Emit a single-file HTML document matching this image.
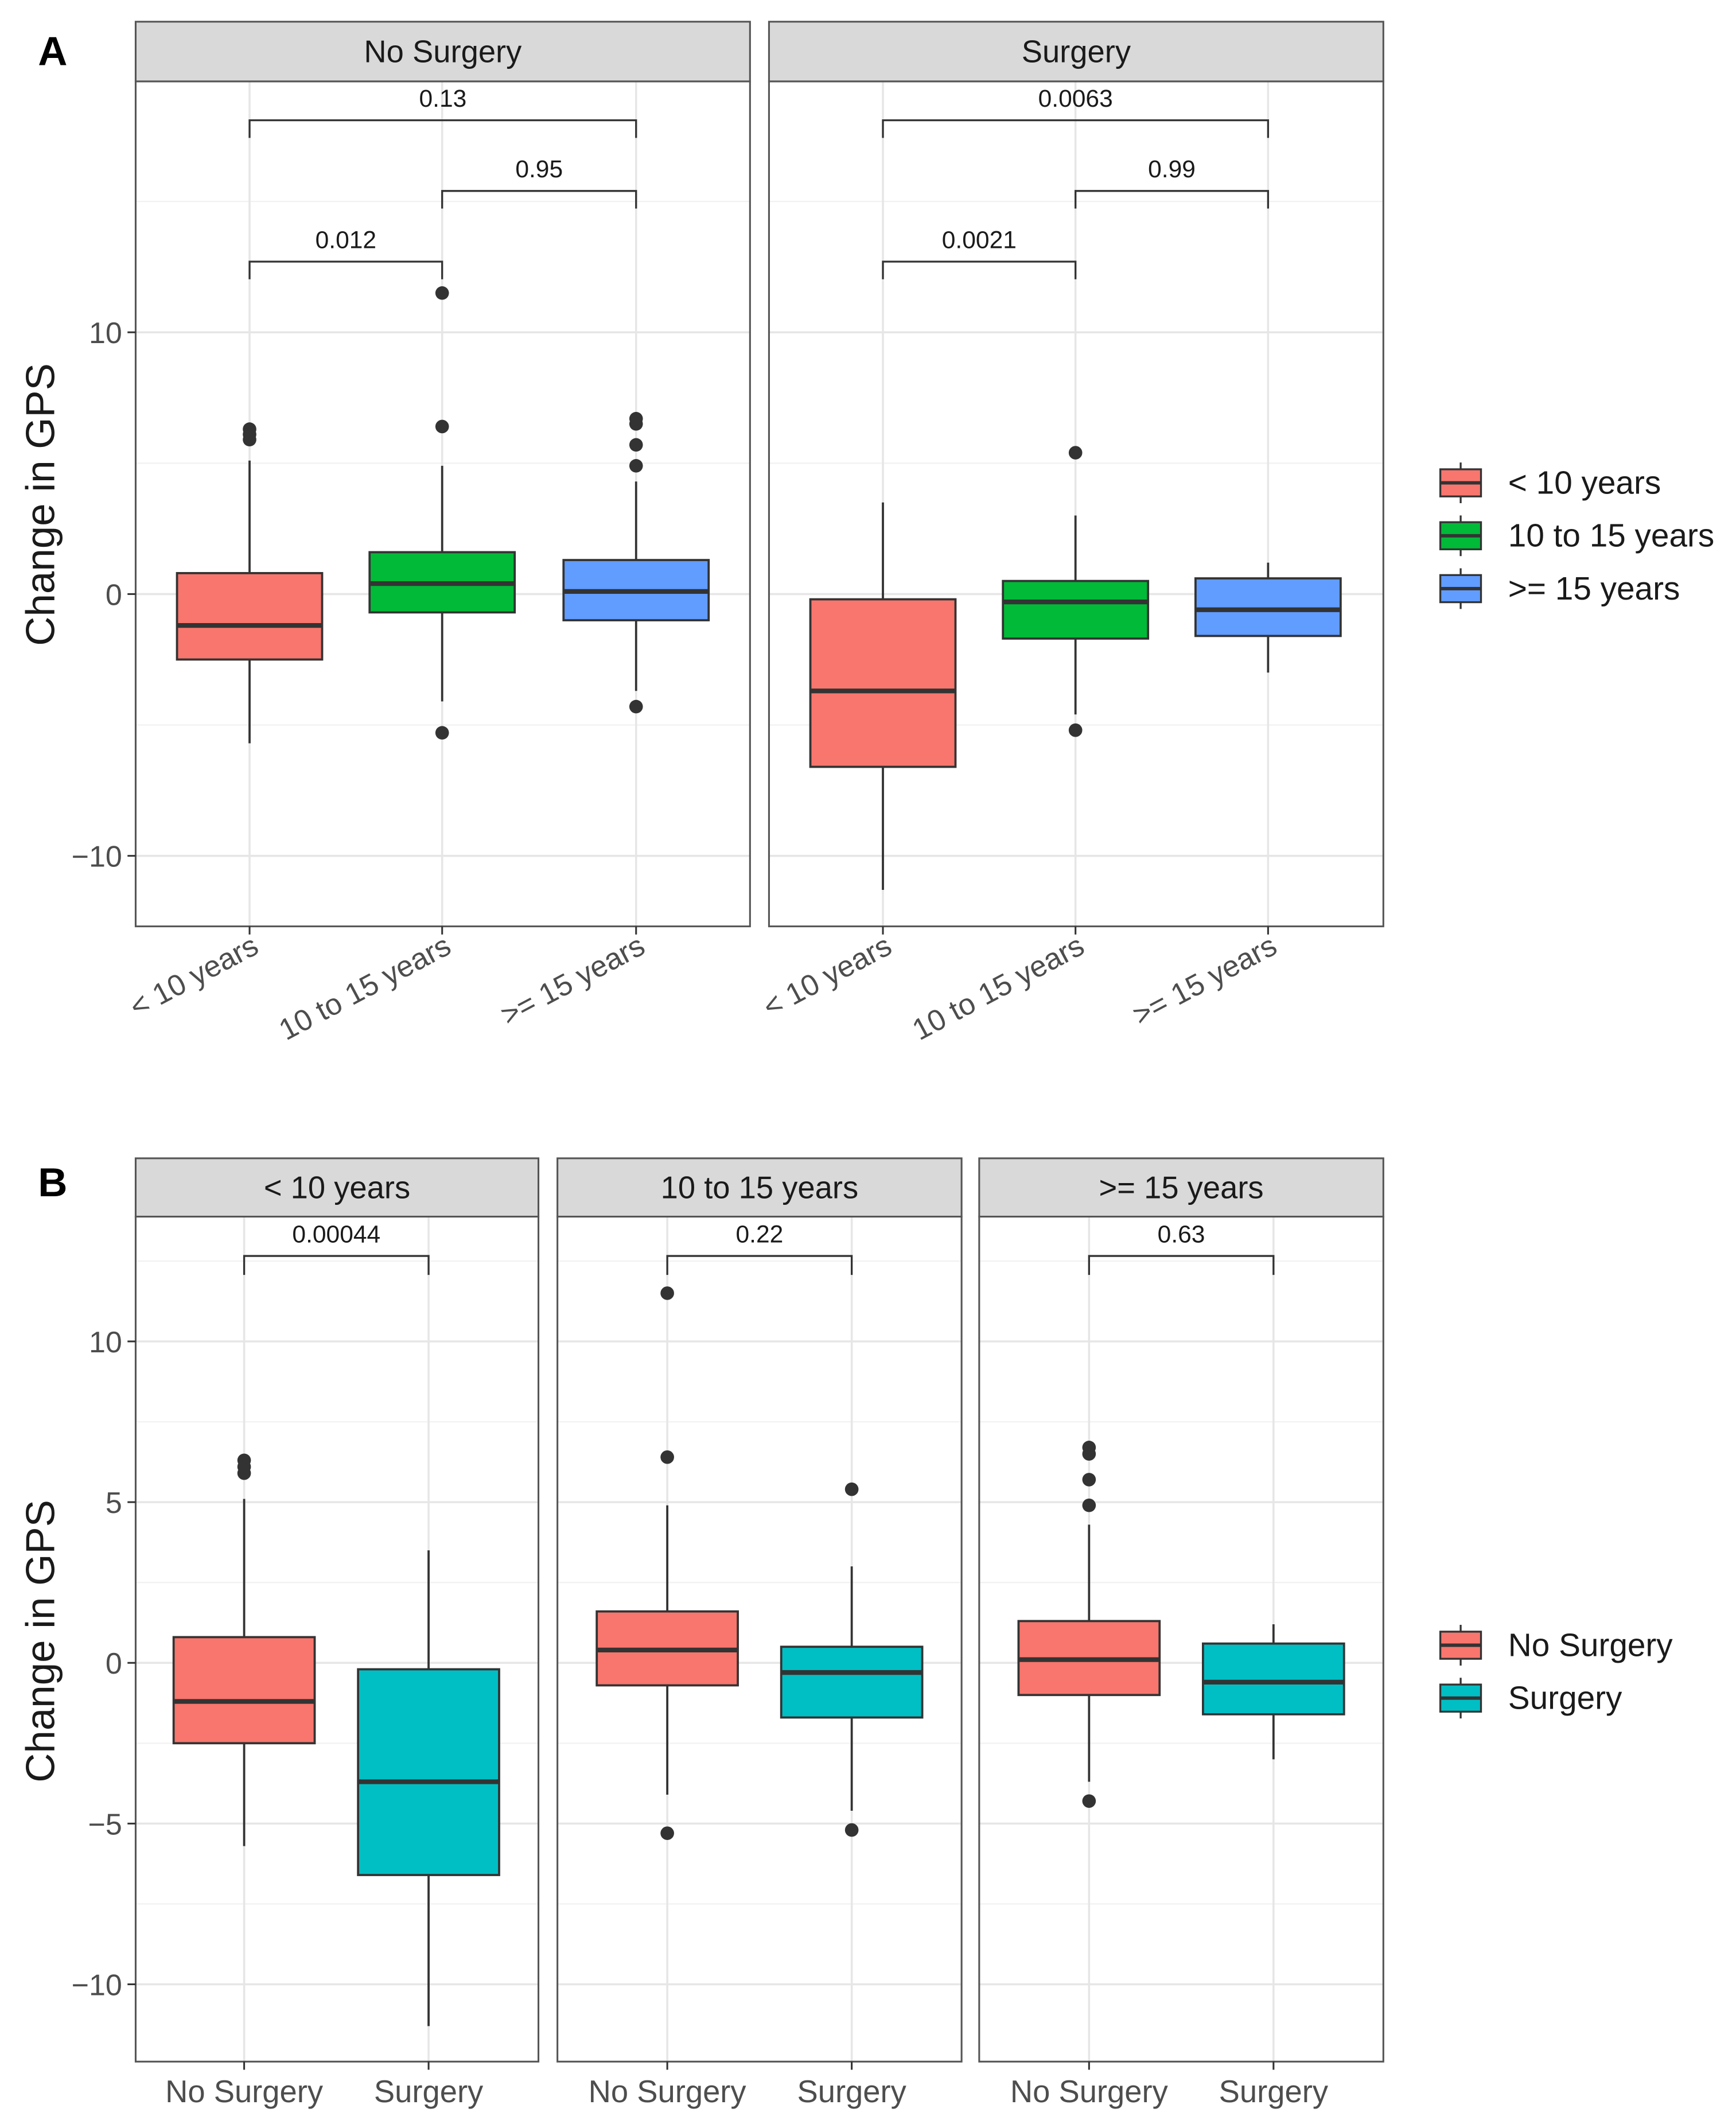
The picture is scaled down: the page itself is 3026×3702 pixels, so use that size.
<!DOCTYPE html>
<html><head><meta charset="utf-8"><style>
html,body{margin:0;padding:0;background:#fff}
svg{display:block}
text{font-family:"Liberation Sans",sans-serif}
</style></head><body>
<svg id="chart" width="3026" height="3702" viewBox="0 0 1280 1566" xmlns="http://www.w3.org/2000/svg"></svg>
<script>
// ---- Data ----
const groupsA = ["< 10 years","10 to 15 years",">= 15 years"];
const facetsA = ["No Surgery","Surgery"];
// [lowWhisker, q1, median, q3, highWhisker]
const statsNoSurgery = [[-5.7,-2.5,-1.2,0.8,5.1],[-4.1,-0.7,0.4,1.6,4.9],[-3.7,-1.0,0.1,1.3,4.3]];
const statsSurgery = [[-11.3,-6.6,-3.7,-0.2,3.5],[-4.6,-1.7,-0.3,0.5,3.0],[-3.0,-1.6,-0.6,0.6,1.2]];
const outNoSurgery = [[6.3,6.1,5.9],[11.5,6.4,-5.3],[6.7,6.5,5.7,4.9,-4.3]];
const outSurgery = [[],[5.4,-5.2],[]];
const pvalsNoSurgery = ["0.012","0.95","0.13"];
const pvalsSurgery = ["0.0021","0.99","0.0063"];
const pvalY = [12.7,15.4,18.1];
const ticksA = [-10,0,10];
const minorA = [-5,5,15];
const ticksB = [-10,-5,0,5,10];
const minorB = [-7.5,-2.5,2.5,7.5,12.5];
const facetsB = ["< 10 years","10 to 15 years",">= 15 years"];
const groupsB = ["No Surgery","Surgery"];
const pvalsB = ["0.00044","0.22","0.63"];
const colorsA = ["#F8766D","#00BA38","#619CFF"];
const colorsB = ["#F8766D","#00BFC4"];

const svg = document.getElementById('chart');
const NS = "http://www.w3.org/2000/svg";
function el(tag, attrs, parent, text){
  const e = document.createElementNS(NS, tag);
  for (const k in attrs) e.setAttribute(k, attrs[k]);
  if (text !== undefined) e.textContent = text;
  (parent||svg).appendChild(e);
  return e;
}

// ---- Axis functions ----
const yA = v => 438 - v*19.3;
const yB = v => 1226 - v*23.7;

function panel(x0, x1, top, bot, stripTop, title, yfn, ticks, minor, xs, showY){
  const g = el('g', {});
  
  
  el('rect', {x:x0, y:top, width:x1-x0, height:bot-top, fill:'#fff'}, g);
  minor.forEach(v => { const y=yfn(v); if(y>top&&y<bot) el('line',{x1:x0,x2:x1,y1:y,y2:y,stroke:'#f2f2f2','stroke-width':1},g); });
  ticks.forEach(v => el('line',{x1:x0,x2:x1,y1:yfn(v),y2:yfn(v),stroke:'#e6e6e6','stroke-width':1.5},g));
  xs.forEach(x => el('line',{x1:x,x2:x,y1:top,y2:bot,stroke:'#e6e6e6','stroke-width':1.5},g));
  el('rect',{x:x0,y:top,width:x1-x0,height:bot-top,fill:'none',stroke:'#555','stroke-width':1.3},g);
  const s = el('rect',{x:x0,y:stripTop,width:x1-x0,height:top-stripTop,fill:'#d9d9d9',stroke:'#555','stroke-width':1.3},g);
  
  
  const t = el('text',{x:(x0+x1)/2,y:stripTop+(top-stripTop)/2+8,'text-anchor':'middle','font-size':23,fill:'#1a1a1a'},g,title);
  
  
  xs.forEach(x => el('line',{x1:x,x2:x,y1:bot,y2:bot+6,stroke:'#333','stroke-width':1.3},g));
  if (showY) ticks.forEach(v => {
    el('line',{x1:x0-6,x2:x0,y1:yfn(v),y2:yfn(v),stroke:'#333','stroke-width':1.3},g);
    const tl = el('text',{x:x0-10,y:yfn(v)+8,'text-anchor':'end','font-size':22,fill:'#4d4d4d'},g, v<0?'\u2212'+(-v):String(v));
    
    
  });
  return g;
}

function box(g, x, w, s, outs, yfn, color){
  el('line',{x1:x,x2:x,y1:yfn(s[0]),y2:yfn(s[1]),stroke:'#333','stroke-width':1.6},g);
  el('line',{x1:x,x2:x,y1:yfn(s[3]),y2:yfn(s[4]),stroke:'#333','stroke-width':1.6},g);
  const r = el('rect',{x:x-w/2,y:yfn(s[3]),width:w,height:yfn(s[1])-yfn(s[3]),fill:color,stroke:'#333','stroke-width':1.6},g);
  
  
  el('line',{x1:x-w/2,x2:x+w/2,y1:yfn(s[2]),y2:yfn(s[2]),stroke:'#333','stroke-width':3.5},g);
  outs.forEach(o => {
    const c = el('circle',{cx:x,cy:yfn(o),r:5,fill:'#333'},g);
    
    
  });
}

function bracket(g, xa, xb, y, label, drop){
  el('path',{d:`M${xa},${y+drop} V${y} H${xb} V${y+drop}`,fill:'none',stroke:'#333','stroke-width':1.4},g);
  const t = el('text',{x:(xa+xb)/2,y:y-10,'text-anchor':'middle','font-size':18,fill:'#1a1a1a'},g,label);
  
  
}

// ---- Panel A ----
const panelsA = [[100,553,[184,326,469],statsNoSurgery,outNoSurgery,pvalsNoSurgery],
                 [567,1020,[651,793,935],statsSurgery,outSurgery,pvalsSurgery]];
panelsA.forEach((p,i) => {
  const g = panel(p[0],p[1],60,683,16,facetsA[i],yA,ticksA,minorA,p[2],i===0);
  p[3].forEach((s,j) => box(g,p[2][j],107,s,p[4][j],yA,colorsA[j]));
  bracket(g,p[2][0],p[2][1],yA(pvalY[0]),p[5][0],13);
  bracket(g,p[2][1],p[2][2],yA(pvalY[1]),p[5][1],13);
  bracket(g,p[2][0],p[2][2],yA(pvalY[2]),p[5][2],13);
  groupsA.forEach((lab,j) => {
    const t = el('text',{x:p[2][j]+8,y:702,'text-anchor':'end','font-size':22,fill:'#4d4d4d',transform:`rotate(-28 ${p[2][j]+8} 702)`},g,lab);
    
    
  });
});

// ---- Panel B ----
const panelsB = [[100,397,[180,316]],[411,709,[492,628]],[722,1020,[803,939]]];
const statsB = [[statsNoSurgery[0],statsSurgery[0]],[statsNoSurgery[1],statsSurgery[1]],[statsNoSurgery[2],statsSurgery[2]]];
const outsB = [[outNoSurgery[0],outSurgery[0]],[outNoSurgery[1],outSurgery[1]],[outNoSurgery[2],outSurgery[2]]];
panelsB.forEach((p,i) => {
  const g = panel(p[0],p[1],897,1520,854,facetsB[i],yB,ticksB,minorB,p[2],i===0);
  statsB[i].forEach((s,j) => box(g,p[2][j],104,s,outsB[i][j],yB,colorsB[j]));
  bracket(g,p[2][0],p[2][1],926,pvalsB[i],14);
  groupsB.forEach((lab,j) => {
    const t = el('text',{x:p[2][j],y:1550,'text-anchor':'middle','font-size':23,fill:'#4d4d4d'},g,lab);
    
    
  });
});

// ---- Titles / legends ----
[[372,'y-axis-title-a'],[1210,'y-axis-title-b']].forEach(a => {
  const t = el('text',{x:40,y:a[0],'text-anchor':'middle','font-size':30,fill:'#1a1a1a',transform:`rotate(-90 40 ${a[0]})`},svg,'Change in GPS');
  
  
});
const la = el('text',{x:28,y:48,'font-size':30,'font-weight':'bold'},svg,'A');


const lb = el('text',{x:28,y:882,'font-size':30,'font-weight':'bold'},svg,'B');



function legend(items, colors, y0){
  items.forEach((lab,i) => {
    const y = y0 + i*39;
    const g = el('g',{});
    
    
    el('line',{x1:1077,x2:1077,y1:y-15,y2:y+15,stroke:'#333','stroke-width':1.4},g);
    el('rect',{x:1062,y:y-10,width:30,height:20,fill:colors[i],stroke:'#333','stroke-width':1.4},g);
    el('line',{x1:1062,x2:1092,y1:y,y2:y,stroke:'#333','stroke-width':2.5},g);
    el('text',{x:1112,y:y+8,'font-size':24,fill:'#1a1a1a'},g,lab);
  });
}
legend(groupsA, colorsA, 356);
legend(groupsB, colorsB, 1213);
</script>
</body></html>
